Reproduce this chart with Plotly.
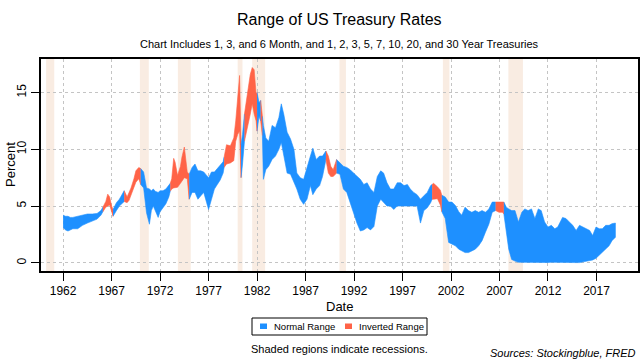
import datetime as dt
import plotly.graph_objects as go

# ---- data (decimal year, low of range, high of range, inverted flag) ----
years = [1962.00, 1962.25, 1962.50, 1962.75, 1963.00, 1963.50, 1964.00, 1964.50, 1965.00, 1965.50,
         1965.90, 1966.10, 1966.40, 1966.60, 1966.80, 1967.00, 1967.15, 1967.50, 1967.80, 1968.00,
         1968.30, 1968.60, 1968.80, 1969.00, 1969.30, 1969.50, 1969.80, 1970.00, 1970.30, 1970.60,
         1970.90, 1971.10, 1971.30, 1971.50, 1971.80, 1972.00, 1972.30, 1972.60, 1972.90, 1973.05,
         1973.20, 1973.40, 1973.55, 1973.80, 1974.10, 1974.25, 1974.50, 1974.80, 1975.00, 1975.30,
         1975.60, 1975.90, 1976.20, 1976.50, 1976.80, 1977.00, 1977.30, 1977.60, 1977.90, 1978.20,
         1978.50, 1978.60, 1978.85, 1979.25, 1979.60, 1979.80, 1980.00, 1980.20, 1980.35, 1980.50,
         1980.70, 1981.00, 1981.30, 1981.50, 1981.70, 1981.90, 1982.00, 1982.20, 1982.37, 1982.55,
         1982.65, 1982.90, 1983.20, 1983.55, 1983.90, 1984.25, 1984.50, 1984.75, 1985.10, 1985.45,
         1985.80, 1986.10, 1986.45, 1986.80, 1987.15, 1987.50, 1987.75, 1988.10, 1988.45, 1988.75,
         1989.10, 1989.35, 1989.60, 1989.85, 1990.20, 1990.55, 1990.90, 1991.25, 1991.60, 1991.95,
         1992.30, 1992.65, 1993.00, 1993.35, 1993.70, 1994.05, 1994.40, 1994.75, 1995.05, 1995.40,
         1995.75, 1996.10, 1996.45, 1996.80, 1997.15, 1997.50, 1997.80, 1998.15, 1998.50, 1998.85,
         1999.20, 1999.55, 1999.90, 2000.05, 2000.20, 2000.60, 2000.90, 2001.05, 2001.40, 2001.75,
         2002.10, 2002.45, 2002.80, 2003.10, 2003.45, 2003.80, 2004.15, 2004.50, 2004.85, 2005.20,
         2005.55, 2005.90, 2006.25, 2006.60, 2006.95, 2007.30, 2007.45, 2007.70, 2007.95, 2008.25,
         2008.60, 2008.95, 2009.30, 2009.60, 2009.95, 2010.30, 2010.65, 2011.00, 2011.30, 2011.65,
         2012.00, 2012.35, 2012.70, 2013.00, 2013.50, 2013.85, 2014.20, 2014.55, 2014.90, 2015.25,
         2015.60, 2015.90, 2016.30, 2016.60, 2016.95, 2017.30, 2017.60, 2017.95, 2018.30, 2018.60,
         2018.95]

low = [3.1, 2.9, 2.8, 2.9, 3.0, 3.0, 3.3, 3.5, 3.7, 3.85,
       4.2, 4.5, 4.9, 5.0, 5.1, 4.45, 4.1, 4.6, 5.0, 5.2,
       5.4, 5.3, 5.5, 5.9, 6.6, 7.1, 7.4, 6.9, 6.6, 4.4,
       3.4, 4.6, 5.0, 4.7, 4.0, 4.5, 4.9, 5.2, 5.8, 6.3,
       6.5, 6.6, 6.65, 6.65, 7.0, 7.1, 7.5, 7.4, 5.6, 6.2,
       6.2, 5.6, 5.9, 6.2, 5.3, 4.7, 5.6, 6.5, 6.9, 7.3,
       7.9, 8.4, 8.7, 8.8, 9.0, 10.7, 11.3, 11.6, 7.5, 8.7,
       10.7, 11.9, 13.1, 14.0, 13.1, 12.5, 11.6, 12.9, 12.5, 11.2,
       7.35, 8.2, 8.5, 9.1, 9.4, 10.0, 10.6, 9.7, 7.9, 7.8,
       7.1, 6.5, 5.6, 5.15, 5.6, 6.8, 6.0, 6.5, 6.8, 7.6,
       9.1, 7.9, 7.6, 7.6, 7.9, 7.8, 6.5, 6.2, 5.3, 4.4,
       3.5, 2.8, 2.9, 3.1, 2.9, 3.2, 5.0, 5.6, 5.3, 5.0,
       5.0, 4.7, 5.0, 5.0, 5.0, 5.0, 5.0, 5.0, 5.0, 3.5,
       4.6, 4.85, 5.3, 5.6, 5.6, 5.65, 5.1, 4.5, 3.9, 1.8,
       1.65, 1.5, 1.2, 1.05, 0.9, 0.9, 1.05, 1.2, 1.5, 1.95,
       2.7, 3.4, 4.45, 4.6, 4.45, 4.45, 4.3, 2.55, 1.2, 0.3,
       0.15, 0.05, 0.05, 0.05, 0.05, 0.05, 0.05, 0.05, 0.03, 0.03,
       0.03, 0.05, 0.05, 0.05, 0.03, 0.03, 0.03, 0.03, 0.02, 0.02,
       0.02, 0.1, 0.2, 0.25, 0.4, 0.7, 0.95, 1.2, 1.5, 1.95,
       2.25]

high = [4.2, 4.1, 4.1, 4.0, 4.0, 4.1, 4.2, 4.3, 4.3, 4.35,
        4.6, 4.9, 5.4, 6.05, 5.8, 5.0, 4.7, 5.3, 5.6, 5.9,
        6.35, 5.8, 6.2, 6.6, 7.4, 8.1, 8.4, 8.3, 8.0, 6.6,
        6.5, 6.35, 6.5, 6.3, 6.2, 6.35, 6.35, 6.5, 6.8, 7.0,
        7.4, 9.2, 8.85, 7.7, 8.5, 9.3, 10.2, 8.0, 7.8, 8.4,
        8.7, 8.1, 8.1, 8.0, 7.7, 7.5, 8.0, 8.0, 8.3, 8.6,
        8.9, 9.3, 10.4, 10.3, 11.0, 12.5, 14.3, 16.5, 10.4, 11.3,
        13.1, 15.1, 16.6, 17.2, 17.0, 14.85, 15.0, 14.1, 14.3, 12.9,
        12.1, 11.0, 10.7, 12.1, 11.9, 12.8, 14.0, 13.1, 11.5, 10.9,
        10.0, 7.9, 7.5, 7.35, 8.5, 9.4, 10.1, 9.1, 9.4, 9.4,
        9.85, 9.4, 8.5, 8.2, 9.1, 8.8, 8.5, 8.4, 8.2, 7.9,
        7.6, 7.35, 6.9, 7.05, 6.5, 6.2, 7.6, 8.1, 7.9, 7.05,
        6.5, 6.5, 7.05, 7.05, 6.8, 6.9, 6.5, 6.2, 6.0, 5.6,
        5.9, 6.2, 6.8, 6.9, 7.0, 6.7, 6.4, 5.95, 5.8, 5.35,
        5.35, 5.05, 4.5, 4.2, 4.9, 4.6, 4.45, 4.6, 4.45, 4.6,
        4.45, 4.75, 5.35, 5.35, 5.35, 5.35, 5.35, 4.9, 4.75, 4.6,
        4.6, 3.6, 4.45, 4.75, 4.6, 4.75, 3.9, 4.75, 4.6, 3.6,
        3.15, 3.3, 3.0, 3.15, 4.0, 3.9, 3.6, 3.3, 2.85, 3.3,
        3.15, 3.0, 2.85, 2.4, 3.15, 3.0, 3.0, 3.3, 3.3, 3.45,
        3.5]

inverted = [0, 0, 0, 0, 0, 0, 0, 0, 0, 0,
            0, 1, 1, 1, 1, 1, 0, 0, 0, 0,
            1, 1, 1, 1, 1, 1, 1, 0, 0, 0,
            0, 0, 0, 0, 0, 0, 0, 0, 0, 1,
            1, 1, 1, 1, 1, 1, 1, 1, 0, 0,
            0, 0, 0, 0, 0, 0, 0, 0, 0, 0,
            0, 1, 1, 1, 1, 1, 1, 1, 0, 0,
            1, 1, 1, 1, 1, 1, 0, 0, 1, 0,
            0, 0, 0, 0, 0, 0, 0, 0, 0, 0,
            0, 0, 0, 0, 0, 0, 0, 0, 0, 0,
            1, 1, 1, 1, 0, 0, 0, 0, 0, 0,
            0, 0, 0, 0, 0, 0, 0, 0, 0, 0,
            0, 0, 0, 0, 0, 0, 0, 0, 0, 0,
            0, 0, 0, 1, 1, 1, 1, 0, 0, 0,
            0, 0, 0, 0, 0, 0, 0, 0, 0, 0,
            0, 0, 0, 1, 1, 1, 0, 0, 0, 0,
            0, 0, 0, 0, 0, 0, 0, 0, 0, 0,
            0, 0, 0, 0, 0, 0, 0, 0, 0, 0,
            0, 0, 0, 0, 0, 0, 0, 0, 0, 0,
            0]

recessions = [("1960-04-01", "1961-02-01"), ("1969-12-01", "1970-11-01"),
              ("1973-11-01", "1975-03-01"), ("1980-01-01", "1980-07-01"),
              ("1981-07-01", "1982-11-01"), ("1990-07-01", "1991-03-01"),
              ("2001-03-01", "2001-11-01"), ("2007-12-01", "2009-06-01")]

tick_years = [1962, 1967, 1972, 1977, 1982, 1987, 1992, 1997, 2002, 2007, 2012, 2017]
y_ticks = [0, 5, 10, 15]
legend_labels = ["Normal Range", "Inverted Range"]

BLUE = "#1E90FF"
RED = "#FF6347"
SHADE = "#F9ECE2"

# plot-area geometry in pixels (for placing the outside texts)
L, R, T, B = 41, 638, 59, 271
W, H = R - L, B - T


def px_x(p):
    return (p - L) / W


def px_y(p):
    return (B - p) / H


def to_date(y):
    yi = int(y)
    return dt.datetime(yi, 1, 1) + dt.timedelta(days=(y - yi) * 365.25)


dates = [to_date(y) for y in years]

fig = go.Figure()

n = len(years)
i = 0
while i < n:
    j = i
    while j + 1 < n and inverted[j + 1] == inverted[i]:
        j += 1
    end = min(j + 1, n - 1)
    xs = dates[i:end + 1]
    xs = xs + xs[::-1]
    ys = high[i:end + 1] + low[i:end + 1][::-1]
    col = RED if inverted[i] else BLUE
    fig.add_trace(go.Scatter(x=xs, y=ys, fill="toself", mode="lines",
                             line=dict(width=0.6, color=col), fillcolor=col,
                             showlegend=False, hoverinfo="skip"))
    i = j + 1

shapes = []
for a, b in recessions:
    shapes.append(dict(type="rect", xref="x", yref="paper", x0=a, x1=b, y0=0, y1=1,
                       fillcolor=SHADE, line=dict(width=0), layer="below"))

# manual legend (box + colour keys)
shapes.append(dict(type="rect", xref="paper", yref="paper",
                   x0=px_x(252), x1=px_x(427), y0=px_y(335), y1=px_y(318),
                   line=dict(color="black", width=1), fillcolor="white", layer="above"))
for x0, col in [(260, BLUE), (345, RED)]:
    shapes.append(dict(type="rect", xref="paper", yref="paper",
                       x0=px_x(x0), x1=px_x(x0 + 7), y0=px_y(329), y1=px_y(323.5),
                       line=dict(width=0), fillcolor=col, layer="above"))

font = "Liberation Sans, Arial, sans-serif"

annotations = [
    dict(text="Range of US Treasury Rates", x=0.5, y=px_y(19), xanchor="center",
         yanchor="middle", font=dict(size=16)),
    dict(text="Chart Includes 1, 3, and 6 Month, and 1, 2, 3, 5, 7, 10, 20, and 30 Year Treasuries",
         x=0.5, y=px_y(44), xanchor="center", yanchor="middle", font=dict(size=11)),
    dict(text="Date", x=0.5, y=px_y(306), xanchor="center", yanchor="middle",
         font=dict(size=13)),
    dict(text="Percent", x=px_x(10), y=0.5, xanchor="center", yanchor="middle",
         textangle=-90, font=dict(size=13)),
    dict(text=legend_labels[0], x=px_x(272), y=px_y(326.5), xanchor="left",
         yanchor="middle", font=dict(size=9.5)),
    dict(text=legend_labels[1], x=px_x(357), y=px_y(326.5), xanchor="left",
         yanchor="middle", font=dict(size=9.5)),
    dict(text="Shaded regions indicate recessions.", x=0.5, y=px_y(349),
         xanchor="center", yanchor="middle", font=dict(size=11)),
    dict(text="<i>Sources: Stockingblue, FRED</i>", x=1.0, y=px_y(353),
         xanchor="right", yanchor="middle", font=dict(size=11)),
]
for a in annotations:
    a.update(xref="paper", yref="paper", showarrow=False)

fig.update_layout(
    width=640, height=360,
    margin=dict(l=L, r=640 - R, t=T, b=360 - B, autoexpand=False),
    paper_bgcolor="white", plot_bgcolor="white",
    font=dict(family=font, size=12, color="black"),
    shapes=shapes,
    showlegend=False,
    xaxis=dict(type="date",
               range=[to_date(1959.72), to_date(2021.28)],
               tickvals=[dt.datetime(y, 1, 1) for y in tick_years],
               ticktext=[str(y) for y in tick_years],
               ticks="outside", ticklen=8, tickcolor="black", tickwidth=1,
               showline=True, linecolor="black", linewidth=1.5, mirror=True,
               showgrid=True, gridcolor="#C4C4C4", griddash="dot", gridwidth=1,
               zeroline=False, tickfont=dict(size=12), automargin=False),
    yaxis=dict(range=[-0.72, 17.95], tickvals=y_ticks, ticktext=[str(v) for v in y_ticks],
               ticks="outside", ticklen=8, tickcolor="black", tickwidth=1, tickangle=-90,
               showline=True, linecolor="black", linewidth=1.5, mirror=True,
               showgrid=True, gridcolor="#C4C4C4", griddash="dot", gridwidth=1,
               zeroline=False, tickfont=dict(size=12), automargin=False),
    annotations=annotations,
)

fig.write_html("out.html", config={"displayModeBar": False},
               post_script="document.body.style.margin='0px';")
